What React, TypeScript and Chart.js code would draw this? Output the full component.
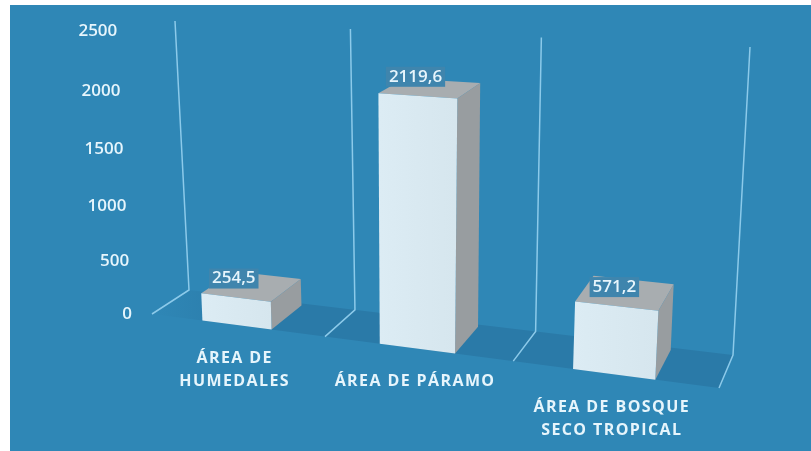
import React, { useEffect, useRef } from "react";
import { Chart, registerables } from "chart.js";

Chart.register(...registerables);

const categories = [["ÁREA DE", "HUMEDALES"], ["ÁREA DE PÁRAMO"], ["ÁREA DE BOSQUE", "SECO TROPICAL"]];
const areaValues = [254.5, 2119.6, 571.2];
const yMax = 2500;
const yStep = 500;

const BG = "#2f87b6";
const FLOOR = "#2a7aa8";
const WALL_LINE = "#8ccaea";
const FRONT_A = "#dcecf4";
const FRONT_B = "#d6e6ee";
const TOP_FACE = "#a8adb0";
const SIDE_FACE = "#989da0";
const TEXT = "#e6f5fc";
const LABEL_BOX = "#3f85ad";
const FONT = '"Open Sans", sans-serif';

// View of the 3D scene: floor corners, wall-top lean, and perspective strength
const FL = [152, 314], FR = [719, 388], BR = [733, 355], BL = [189, 290];
const UP_L = [-14, -269], UP_R = [17, -308];
const G_X = -0.122, G_V = -0.07, FRONT_SCALE = 0.05, BAR_DEPTH = 0.93;

const lerp = (a: number[], b: number[], t: number) => [a[0] + (b[0] - a[0]) * t, a[1] + (b[1] - a[1]) * t];
const warpU = (u: number) => ((1 + G_X) * u) / (1 + G_X * u);
const warpV = (v: number) => ((1 + G_V) * v) / (1 + G_V * v);

function project(u: number, d: number, v: number) {
  const t = warpU(u);
  const p = lerp(lerp(FL, FR, t), lerp(BL, BR, t), d);
  const up = lerp(UP_L, UP_R, t);
  const k = warpV(v) * (1 + (1 - d) * FRONT_SCALE);
  return [p[0] + up[0] * k, p[1] + up[1] * k];
}

function poly(ctx: CanvasRenderingContext2D, pts: number[][], fill: any) {
  ctx.beginPath();
  pts.forEach((p, i) => (i ? ctx.lineTo(p[0], p[1]) : ctx.moveTo(p[0], p[1])));
  ctx.closePath();
  ctx.fillStyle = fill;
  ctx.fill();
}

const fracs = (chart: any, el: any) => {
  const { x: xs, y: ys } = chart.scales;
  return {
    u0: (el.x - el.width / 2 - xs.left) / xs.width,
    u1: (el.x + el.width / 2 - xs.left) / xs.width,
    v: (ys.bottom - el.y) / ys.height,
  };
};

const scene3d = {
  id: "scene3d",
  afterDatasetsUpdate(chart: any) {
    chart.getDatasetMeta(0).data.forEach((el: any) => {
      el.draw = (ctx: CanvasRenderingContext2D) => {
        const { u0, u1, v } = fracs(chart, el);
        const d = BAR_DEPTH;
        const a = project(u0, 0, 0), b = project(u1, 0, 0), c = project(u1, 0, v), e = project(u0, 0, v);
        const br = project(u1, d, 0), tr = project(u1, d, v), tl = project(u0, d, v);
        ctx.save();
        poly(ctx, [b, br, tr, c], SIDE_FACE);
        poly(ctx, [e, c, tr, tl], TOP_FACE);
        const g = ctx.createLinearGradient(a[0], 0, b[0], 0);
        g.addColorStop(0, FRONT_A);
        g.addColorStop(1, FRONT_B);
        poly(ctx, [a, b, c, e], g);
        ctx.restore();
      };
    });
  },
  beforeDraw(chart: any) {
    const { ctx, width, height, scales } = chart;
    ctx.save();
    ctx.fillStyle = "#ffffff";
    ctx.fillRect(0, 0, width, height);
    ctx.fillStyle = BG;
    ctx.fillRect(10, 5, width - 10, height - 5);

    // floor
    const n = categories.length;
    const g = ctx.createLinearGradient(FL[0], 0, 260, 0);
    g.addColorStop(0, "rgba(42,122,168,0)");
    g.addColorStop(1, FLOOR);
    poly(ctx, [FL, FR, BR, BL], g);

    // wall lines
    ctx.strokeStyle = WALL_LINE;
    ctx.lineWidth = 1.5;
    for (let i = 0; i <= n; i++) {
      const u = i / n;
      const p0 = project(u, 0, 0), p1 = project(u, 1, 0), p2 = project(u, 1, 1);
      ctx.beginPath();
      ctx.moveTo(p0[0], p0[1]);
      ctx.lineTo(p1[0], p1[1]);
      ctx.lineTo(p2[0], p2[1]);
      ctx.stroke();
    }
    ctx.restore();

    // move the library's own tick labels into the scene
    scales.y._computeLabelArea = () => undefined;
    scales.x._computeLabelArea = () => undefined;
    scales.y.getLabelItems().forEach((item: any, i: number) => {
      const v = scales.y.ticks[i].value / yMax;
      const p = project(0, 0, v);
      item.options.translation = [p[0] - 20, p[1]];
      item.options.textAlign = "right";
      item.options.textBaseline = "middle";
      item.textOffset = 0;
    });
    scales.x.getLabelItems().forEach((item: any, i: number) => {
      const p = project((i + 0.5) / n, 0, 0);
      item.options.translation = [p[0] - 2, p[1] + 33];
      item.options.textAlign = "center";
      item.options.textBaseline = "middle";
      item.textOffset = 0;
    });
    if (!scales.x._spaced) {
      const orig = scales.x.drawLabels;
      scales.x.drawLabels = function (area: any) {
        ctx.save();
        ctx.letterSpacing = "1.4px";
        orig.call(this, area);
        ctx.restore();
      };
      scales.x._spaced = true;
    }
  },
  afterDatasetsDraw(chart: any) {
    const { ctx } = chart;
    ctx.save();
    ctx.font = `600 17px ${FONT}`;
    ctx.textAlign = "center";
    ctx.textBaseline = "middle";
    chart.getDatasetMeta(0).data.forEach((el: any, i: number) => {
      const { u0, u1, v } = fracs(chart, el);
      const p = project((u0 + u1) / 2, 0, v);
      const text = String(areaValues[i]).replace(".", ",");
      const w = ctx.measureText(text).width + 6;
      const cx = p[0] - 2, cy = p[1] - 19;
      ctx.fillStyle = LABEL_BOX;
      ctx.fillRect(cx - w / 2, cy - 10, w, 20);
      ctx.fillStyle = TEXT;
      ctx.fillText(text, cx, cy);
    });
    ctx.restore();
  },
};

export default function App() {
  const ref = useRef<HTMLCanvasElement>(null);
  useEffect(() => {
    const chart = new Chart(ref.current!, {
      type: "bar",
      data: {
        labels: categories as any,
        datasets: [{ data: areaValues, backgroundColor: FRONT_B, barPercentage: 0.4, categoryPercentage: 1, clip: false }],
      },
      plugins: [scene3d],
      options: {
        responsive: false,
        animation: false,
        layout: { padding: { left: 100, right: 92, top: 21, bottom: 40 } },
        plugins: { legend: { display: false }, tooltip: { enabled: false } },
        scales: {
          x: {
            grid: { display: false },
            border: { display: false },
            ticks: { color: TEXT, maxRotation: 0, autoSkip: false, font: { family: FONT, size: 16, weight: "700", lineHeight: 23 / 16 } },
          },
          y: {
            min: 0,
            max: yMax,
            grid: { display: false },
            border: { display: false },
            ticks: {
              stepSize: yStep,
              color: TEXT,
              callback: (v: any) => String(v),
              font: { family: FONT, size: 17, weight: "600" },
            },
          },
        },
      } as any,
    });
    return () => chart.destroy();
  }, []);
  return (
    <div style={{ position: "fixed", left: 0, top: 0, width: 811, height: 451 }}>
      <canvas ref={ref} width={811} height={451} style={{ display: "block", filter: "blur(0.5px)" }} />
    </div>
  );
}
